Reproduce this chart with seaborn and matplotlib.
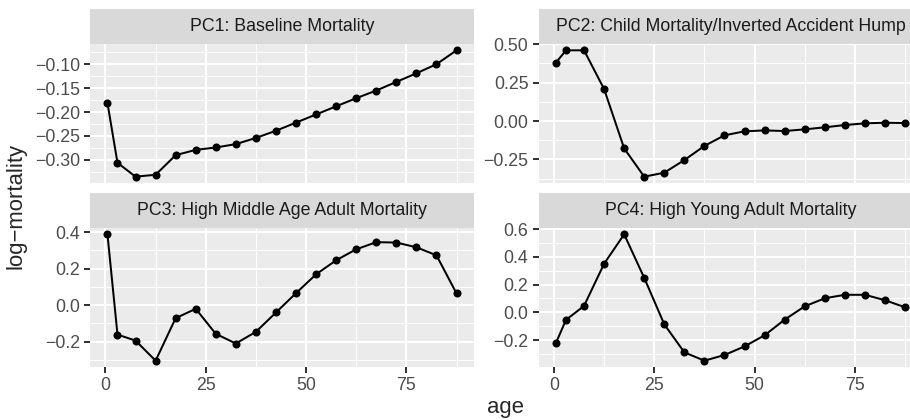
import matplotlib
matplotlib.use("Agg")
import numpy as np
import pandas as pd
import seaborn as sns
import matplotlib.pyplot as plt
from matplotlib.ticker import FixedLocator, FixedFormatter

# ages at which the loadings are given
ages = [0.5, 3, 7.5, 12.5, 17.5, 22.5, 27.5, 32.5, 37.5, 42.5,
        47.5, 52.5, 57.5, 62.5, 67.5, 72.5, 77.5, 82.5, 87.5]

pc1 = [-0.181, -0.306, -0.335, -0.331, -0.290, -0.279, -0.274, -0.267, -0.254, -0.239,
       -0.222, -0.205, -0.188, -0.171, -0.155, -0.137, -0.119, -0.100, -0.071]
pc2 = [0.380, 0.460, 0.460, 0.208, -0.178, -0.362, -0.336, -0.254, -0.162, -0.093,
       -0.067, -0.061, -0.065, -0.054, -0.041, -0.026, -0.015, -0.011, -0.013]
pc3 = [0.388, -0.161, -0.194, -0.304, -0.071, -0.020, -0.157, -0.210, -0.146, -0.040,
       0.066, 0.169, 0.246, 0.306, 0.345, 0.343, 0.317, 0.273, 0.064]
pc4 = [-0.221, -0.055, 0.046, 0.350, 0.562, 0.248, -0.087, -0.289, -0.349, -0.308,
       -0.246, -0.166, -0.053, 0.043, 0.101, 0.126, 0.126, 0.087, 0.036]

titles = ["PC1: Baseline Mortality",
          "PC2: Child Mortality/Inverted Accident Hump",
          "PC3: High Middle Age Adult Mortality",
          "PC4: High Young Adult Mortality"]

yticks = [[-0.30, -0.25, -0.20, -0.15, -0.10],
          [-0.25, 0.00, 0.25, 0.50],
          [-0.2, 0.0, 0.2, 0.4],
          [-0.2, 0.0, 0.2, 0.4, 0.6]]
ydigits = [2, 2, 1, 1]

xticks = [0, 25, 50, 75]

sns.set_theme(style="white")
plt.rcParams['font.family'] = ['Liberation Sans', 'DejaVu Sans']

W, H = 910, 420
fig = plt.figure(figsize=(W / 100, H / 100), dpi=100)

# panel boxes in pixels (left, top) - right column runs past the figure edge
lefts = [90, 538.5, 90, 538.5]
tops = [44, 44, 228, 228]
pw, ph, sh = 384, 139, 35

series = [pc1, pc2, pc3, pc4]

for i in range(4):
    l, t = lefts[i], tops[i]
    ax = fig.add_axes([l / W, 1 - (t + ph) / H, pw / W, ph / H])
    df = pd.DataFrame({"age": ages, "value": series[i]})
    sns.lineplot(data=df, x="age", y="value", ax=ax, color="black",
                 linewidth=1.44, marker="o", markersize=5.8,
                 markeredgewidth=0, zorder=3)
    vals = np.array(series[i])
    rng = vals.max() - vals.min()
    ax.set_ylim(vals.min() - 0.05 * rng, vals.max() + 0.05 * rng)
    ax.set_xlim(min(ages) - 0.05 * (max(ages) - min(ages)),
                max(ages) + 0.05 * (max(ages) - min(ages)))

    ax.set_facecolor("#EBEBEB")
    for s in ax.spines.values():
        s.set_visible(False)

    yt = yticks[i]
    step = yt[1] - yt[0]
    yminor = [yt[0] - step / 2] + [v + step / 2 for v in yt]
    ax.yaxis.set_major_locator(FixedLocator(yt))
    ax.yaxis.set_minor_locator(FixedLocator(yminor))
    ax.yaxis.set_major_formatter(FixedFormatter(
        [f"{v:.{ydigits[i]}f}".replace("-", "\u2212") for v in yt]))
    ax.xaxis.set_major_locator(FixedLocator(xticks))
    ax.xaxis.set_minor_locator(FixedLocator([-12.5, 12.5, 37.5, 62.5, 87.5]))

    ax.grid(which="major", color="white", linewidth=1.44)
    ax.grid(which="minor", color="white", linewidth=0.72)
    ax.set_axisbelow(True)

    ax.tick_params(which="major", length=4, width=1.44, color="#333333",
                   labelsize=12.75, labelcolor="#4D4D4D", pad=3.2)
    ax.tick_params(which="minor", length=0)
    ax.tick_params(axis="x", bottom=True)
    ax.tick_params(axis="y", left=True)
    if i < 2:
        ax.tick_params(axis="x", which="both", bottom=False, labelbottom=False)
    ax.set_xlabel("")
    ax.set_ylabel("")

    # facet strip
    sax = fig.add_axes([l / W, 1 - t / H, pw / W, sh / H])
    sax.set_facecolor("#D9D9D9")
    sax.set_xticks([])
    sax.set_yticks([])
    for s in sax.spines.values():
        s.set_visible(False)
    sax.text(0.5, 0.5, titles[i], ha="center", va="center",
             fontsize=12.75, color="#1A1A1A", transform=sax.transAxes)

fig.text(506 / W, 1 - 408 / H, "age", ha="center", va="center", fontsize=15.95)
fig.text(16 / W, 1 - 205.5 / H, "log\u2212mortality", ha="center", va="center",
         rotation=90, fontsize=15.95)

fig.savefig("out.png", dpi=100)
